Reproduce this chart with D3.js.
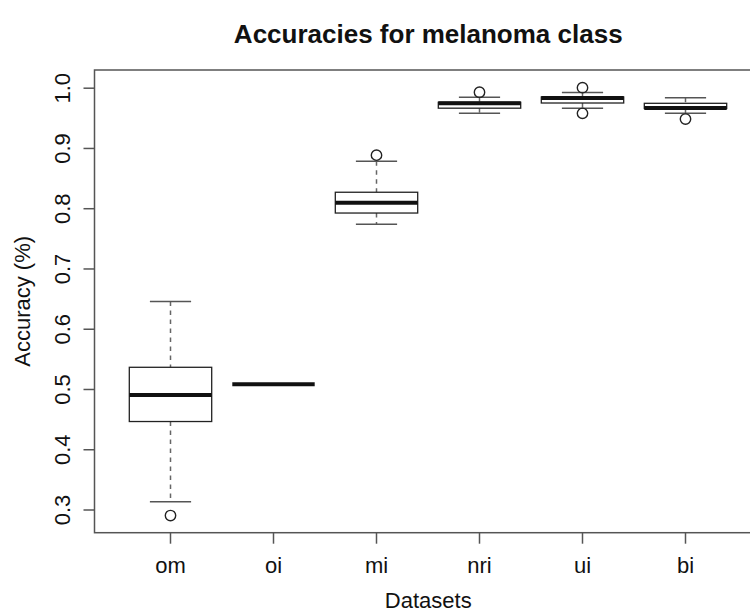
<!DOCTYPE html>
<head>
<meta charset="utf-8">
<style>
body { margin: 0; background: #fff; }
svg { display: block; }
svg text { font-family: "Liberation Sans", Arial, sans-serif; fill: #111; }
.title { font-size: 26px; font-weight: bold; text-anchor: middle; }
.tick-label { font-size: 22px; text-anchor: middle; }
.axis-title { font-size: 22px; text-anchor: middle; }
</style>
</head>
<body>
<svg class="chart"></svg>
<script src="https://cdn.jsdelivr.net/npm/d3@7/dist/d3.min.js"></script>
<script>

const categories = ['om', 'oi', 'mi', 'nri', 'ui', 'bi']
const lowerWhisker = [0.313, 0.508, 0.7735, 0.9575, 0.9658, 0.9575]
const lowerQuartile = [0.446, 0.508, 0.792, 0.966, 0.9746, 0.9655]
const medians = [0.490, 0.508, 0.809, 0.974, 0.983, 0.9665]
const upperQuartile = [0.536, 0.508, 0.8265, 0.9758, 0.9846, 0.9741]
const upperWhisker = [0.645, 0.508, 0.878, 0.984, 0.992, 0.9834]
const outliers = [[0.290], [], [0.888], [0.9925], [1.0, 0.9575], [0.948]]
const yTicks = [0.3, 0.4, 0.5, 0.6, 0.7, 0.8, 0.9, 1.0]

const size = {width: 750, height: 615}
const frame = {left: 94.5, right: 762, top: 70, bottom: 532.7}

let chart = d3.select('svg')
  .attr('width', size.width)
  .attr('height', size.height)

let x = d3.scaleBand()
  .domain(categories)
  .range([119, 737])
let y = d3.scaleLinear()
  .domain([0.3, 1.0])
  .range([509.5, 87.7])

const boxWidth = x.bandwidth() * 0.8
const capWidth = boxWidth / 2

let boxes = categories.map((c, i) => ({
  name: c,
  lw: lowerWhisker[i],
  q1: lowerQuartile[i],
  med: medians[i],
  q3: upperQuartile[i],
  uw: upperWhisker[i],
  out: outliers[i]
}))

boxLayer(chart)
axisLayer(chart)
labelLayer(chart)

function boxLayer(chart) {
  let g = chart.append('g')
    .selectAll('g')
      .data(boxes)
    .enter()
      .append('g')
        .attr('transform', d => `translate(${x(d.name) + x.bandwidth() / 2}, 0)`)

  // whiskers
  g.append('line')
    .attr('x1', 0).attr('x2', 0)
    .attr('y1', d => y(d.uw)).attr('y2', d => y(d.q3))
    .attr('stroke', '#666').attr('stroke-width', 1.5)
    .attr('stroke-dasharray', '4.5,4.5')
  g.append('line')
    .attr('x1', 0).attr('x2', 0)
    .attr('y1', d => y(d.q1)).attr('y2', d => y(d.lw))
    .attr('stroke', '#666').attr('stroke-width', 1.5)
    .attr('stroke-dasharray', '4.5,4.5')

  // staples
  ;['uw', 'lw'].forEach(k => {
    g.append('line')
      .attr('x1', -capWidth / 2).attr('x2', capWidth / 2)
      .attr('y1', d => y(d[k])).attr('y2', d => y(d[k]))
      .attr('stroke', '#555').attr('stroke-width', 1.5)
  })

  g.append('rect')
    .attr('x', -boxWidth / 2)
    .attr('width', boxWidth)
    .attr('y', d => y(d.q3))
    .attr('height', d => y(d.q1) - y(d.q3))
    .attr('fill', 'white')
    .attr('stroke', '#222').attr('stroke-width', 1.3)

  g.append('line')
    .attr('x1', -boxWidth / 2).attr('x2', boxWidth / 2)
    .attr('y1', d => y(d.med)).attr('y2', d => y(d.med))
    .attr('stroke', '#111').attr('stroke-width', 4)

  g.selectAll('circle')
    .data(d => d.out)
    .enter()
      .append('circle')
        .attr('cx', 0)
        .attr('cy', d => y(d))
        .attr('r', 5.2)
        .attr('fill', 'none')
        .attr('stroke', '#222').attr('stroke-width', 1.4)
}

function axisLayer(chart) {
  // plot frame
  chart.append('rect')
    .attr('x', frame.left).attr('y', frame.top)
    .attr('width', frame.right - frame.left)
    .attr('height', frame.bottom - frame.top)
    .attr('fill', 'none')
    .attr('stroke', '#555').attr('stroke-width', 1.5)

  let yAxis = d3.axisLeft(y)
    .tickValues(yTicks)
    .tickSize(11)
    .tickFormat(d3.format('.1f'))
  let yg = chart.append('g')
    .attr('transform', `translate(${frame.left}, 0)`)
    .call(yAxis)
  yg.select('.domain').remove()
  yg.selectAll('.tick line').attr('stroke', '#555').attr('stroke-width', 1.5)
  yg.selectAll('.tick text')
    .attr('class', 'tick-label')
    .attr('x', null).attr('dy', null)
    .attr('transform', 'translate(-24.5, 0) rotate(-90)')
    .attr('font-family', null).attr('font-size', null)

  let xAxis = d3.axisBottom(x)
    .tickSize(11)
  let xg = chart.append('g')
    .attr('transform', `translate(0, ${frame.bottom})`)
    .call(xAxis)
  xg.select('.domain').remove()
  xg.selectAll('.tick line').attr('stroke', '#555').attr('stroke-width', 1.5)
  xg.selectAll('.tick text')
    .attr('class', 'tick-label')
    .attr('y', 40).attr('dy', null)
    .attr('font-family', null).attr('font-size', null)
}

function labelLayer(chart) {
  const cx = (frame.left + frame.right) / 2
  chart.append('text')
    .attr('class', 'title')
    .attr('x', cx).attr('y', 43)
    .text('Accuracies for melanoma class')

  chart.append('text')
    .attr('class', 'axis-title')
    .attr('x', cx).attr('y', 608)
    .text('Datasets')

  chart.append('text')
    .attr('class', 'axis-title')
    .attr('transform', `translate(30, ${(frame.top + frame.bottom) / 2}) rotate(-90)`)
    .text('Accuracy (%)')
}

</script>
</body>
